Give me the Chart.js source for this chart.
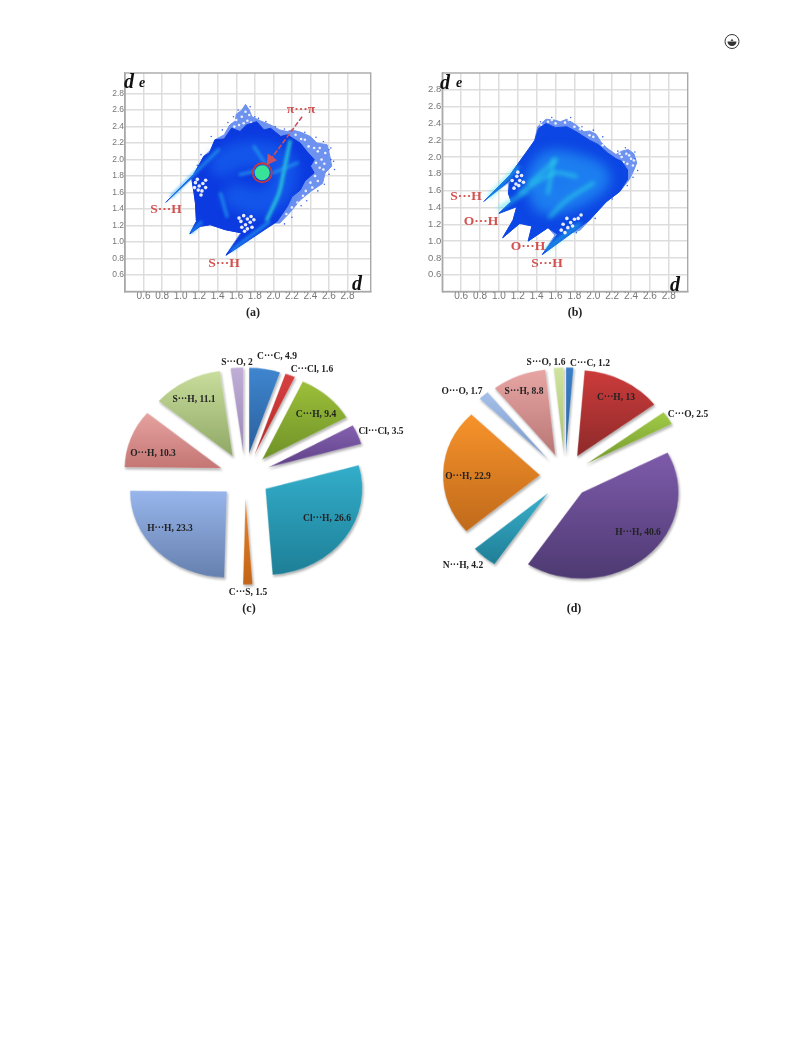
<!DOCTYPE html>
<html>
<head>
<meta charset="utf-8">
<title>Fingerprint plots and contact pies</title>
<script src="https://cdn.jsdelivr.net/npm/chart.js@4"></script>
<style>
  body { margin: 0; background: #fff; }
  #page { position: relative; width: 791px; height: 1056px; overflow: hidden; }
  .box { position: absolute; }
  .fp canvas { filter: blur(0.7px); }
  .pie { transform: scaleY(0.89); }
  .pie canvas { filter: drop-shadow(1px 2px 1px rgba(0,0,0,.3)) blur(0.4px); }
  .txt { position: absolute; transform: translate(-50%, -50%); white-space: nowrap; font-family: "Liberation Serif", serif; font-weight: bold; }
  .slice { font-size: 9.5px; color: #222; filter: blur(0.3px); }
  .mark { font-size: 13.5px; color: #d4504f; filter: blur(0.4px); }
  .cap { font-size: 12px; color: #222; filter: blur(0.3px); }
  .ax { font-style: italic; color: #111; filter: blur(0.4px); }
</style>
</head>
<body>
<div id="page">
  <div class="box fp" style="left:100px;top:60px"><canvas id="fpA" width="285" height="250"></canvas></div>
  <div class="box fp" style="left:420px;top:60px"><canvas id="fpB" width="285" height="250"></canvas></div>
  <div class="box pie" style="left:115px;top:346px"><canvas id="pieC" width="260" height="260"></canvas></div>
  <div class="box pie" style="left:435px;top:346px"><canvas id="pieD" width="260" height="260"></canvas></div>
  <svg class="box" style="left:722px;top:32px" width="20" height="20">
    <circle cx="10" cy="9.5" r="7" fill="none" stroke="#333" stroke-width="1"/>
    <path d="M5.5 9.5 H14.5 A4.5 4.5 0 0 1 5.5 9.5 Z" fill="#333"/>
    <path d="M8.5 9 L10 6.5 L11.5 9 Z" fill="#555"/>
  </svg>
</div>
<script>
// tick values shared by both fingerprint plots
const tickValues = [0.6, 0.8, 1.0, 1.2, 1.4, 1.6, 1.8, 2.0, 2.2, 2.4, 2.6, 2.8];

// plot (a), [di, de]
const aSparse = [[.84,1.48],[1.14,1.82],[1.22,1.97],[1.25,2.04],[1.33,2.12],[1.37,2.24],[1.47,2.3],[1.53,2.42],[1.59,2.47],[1.6,2.55],[1.66,2.6],[1.70,2.67],[1.74,2.6],[1.77,2.52],[1.86,2.47],[1.97,2.42],[2.07,2.36],[2.15,2.34],[2.20,2.36],[2.3,2.33],[2.40,2.28],[2.47,2.2],[2.58,2.18],[2.61,2.04],[2.63,1.92],[2.56,1.84],[2.53,1.71],[2.41,1.62],[2.29,1.51],[2.18,1.36],[2.07,1.23],[1.96,1.23],[1.86,1.15],[1.73,1.09],[1.64,1.10],[1.49,.84],[1.66,1.11],[1.48,1.15],[1.32,1.21],[1.21,1.19],[1.10,1.10],[1.17,1.25],[1.16,1.47],[1.14,1.63],[1.12,1.77]];
const aDense = [[.84,1.48],[1.14,1.82],[1.25,2.04],[1.31,2.08],[1.37,2.24],[1.47,2.25],[1.55,2.38],[1.64,2.34],[1.71,2.42],[1.82,2.46],[1.9,2.36],[1.97,2.38],[2.08,2.28],[2.15,2.30],[2.22,2.25],[2.29,2.20],[2.36,2.1],[2.44,2.00],[2.4,1.92],[2.44,1.84],[2.34,1.74],[2.29,1.63],[2.2,1.55],[2.15,1.43],[2.04,1.25],[1.49,.84],[1.66,1.11],[1.48,1.15],[1.32,1.21],[1.21,1.19],[1.10,1.10],[1.17,1.25],[1.16,1.47],[1.14,1.63],[1.12,1.77]];
const aGlow = [[1.45,1.95],[1.62,2.05],[1.95,2.05],[2.12,1.92],[2.05,1.6],[1.85,1.48],[1.6,1.55]];
const aStreaks = [
  [[.9,1.55],[1.14,1.82],[1.41,2.12]],
  [[1.64,1.82],[1.89,1.88]],
  [[1.79,2.16],[1.93,1.92]],
  [[2.18,2.22],[2.11,1.84],[2.06,1.59],[1.93,1.27]],
  [[2.26,1.96],[2.00,1.84]],
  [[1.43,1.59],[1.50,1.31]],
  [[1.55,.9],[1.95,1.24]],
  [[1.12,1.12],[1.22,1.24]]
];
const aHoles = [[1.16,1.72],[1.2,1.68],[1.24,1.71],[1.19,1.63],[1.23,1.62],[1.27,1.66],[1.22,1.57],[1.27,1.75],[1.15,1.66],[1.18,1.76],
  [1.68,1.32],[1.72,1.28],[1.76,1.31],[1.65,1.25],[1.7,1.21],[1.75,1.24],[1.79,1.27],[1.72,1.16],[1.66,1.18],[1.77,1.18],[1.63,1.29],[1.69,1.13],
  [1.6,2.48],[1.66,2.52],[1.7,2.58],[1.63,2.42],[1.72,2.47],[1.68,2.44],[1.76,2.45],[1.58,2.4],[1.74,2.54],
  [2.48,2.1],[2.52,2.0],[2.5,1.9],[2.45,1.8],[2.55,1.95],[2.4,1.72],[2.35,1.62],[2.3,2.25],[2.38,2.16],[2.44,2.14],[2.5,2.14],[2.56,2.08],[2.46,1.96],[2.54,1.88],[2.42,1.66],[2.32,1.56],[2.26,1.48],[2.24,2.3],[2.34,2.24],[2.2,1.42],[2.14,1.34],[2.48,1.74]];
const aStray = [[2.6,2.12],[2.62,2.0],[2.6,1.82],[2.55,1.7],[2.48,1.62],[2.36,1.5],[2.3,1.44],[2.2,1.3],[2.12,1.22],[1.75,2.64],[1.8,2.52],[1.84,2.5],[1.92,2.46],[2.02,2.4],[2.12,2.37],[2.34,2.33],[2.46,2.27],[2.54,2.22],[2.62,2.14],[2.65,1.98],[2.66,1.88],[1.51,2.45],[1.45,2.36],[1.57,2.52],[1.62,2.6],[1.33,2.28],[1.22,2.06],[1.18,1.93],[1.64,1.06],[1.72,1.05],[1.8,1.09],[1.92,1.17]];
const aSpot = [[1.88,1.84]];
const aArrow = [[2.31,2.52],[1.97,2.0]];

// plot (b)
const bSparse = [[.84,1.47],[1.12,1.79],[1.26,2.01],[1.33,2.1],[1.38,2.2],[1.41,2.36],[1.5,2.45],[1.59,2.44],[1.65,2.42],[1.72,2.45],[1.82,2.38],[1.9,2.3],[1.96,2.31],[2.03,2.27],[2.08,2.18],[2.14,2.11],[2.24,2.03],[2.3,2.07],[2.37,2.09],[2.43,2.04],[2.46,1.93],[2.42,1.82],[2.38,1.73],[2.28,1.59],[2.14,1.47],[2.05,1.37],[1.96,1.25],[1.86,1.13],[1.72,1.08],[1.6,1.08],[1.46,.84],[1.6,1.06],[1.52,1.16],[1.31,1.0],[1.35,1.18],[1.22,1.21],[1.04,1.04],[1.15,1.25],[1.19,1.41],[1.0,1.33],[1.13,1.47],[1.1,1.57],[1.1,1.69]];
const bDense = [[.84,1.47],[1.12,1.79],[1.26,2.01],[1.38,2.2],[1.42,2.34],[1.5,2.4],[1.6,2.35],[1.72,2.36],[1.82,2.3],[1.96,2.2],[2.05,2.15],[2.15,2.05],[2.24,1.98],[2.3,1.95],[2.36,1.85],[2.36,1.73],[2.28,1.59],[2.14,1.47],[1.96,1.25],[1.46,.84],[1.62,1.08],[1.52,1.16],[1.31,1.0],[1.35,1.18],[1.22,1.21],[1.04,1.04],[1.15,1.25],[1.19,1.41],[1.0,1.33],[1.13,1.47],[1.1,1.57],[1.12,1.72]];
const bGlow = [[1.42,1.68],[1.55,1.9],[1.85,1.85],[2.02,1.75],[1.85,1.6],[1.62,1.5],[1.5,1.5]];
const bStreaks = [
  [[1.58,1.97],[1.52,1.57]],
  [[1.22,1.57],[1.58,1.81],[1.82,1.77]],
  [[1.54,1.29],[1.72,1.49],[2.0,1.69]],
  [[1.33,1.69],[1.61,1.97]],
  [[1.01,1.39],[1.29,1.59]],
  [[.9,1.53],[1.2,1.88]],
  [[1.5,.9],[1.85,1.2]]
];
const bHoles = [[1.14,1.72],[1.18,1.68],[1.22,1.72],[1.16,1.63],[1.21,1.66],[1.19,1.77],[1.24,1.78],[1.26,1.7],[1.2,1.82],
  [1.72,1.27],[1.76,1.22],[1.8,1.26],[1.68,1.2],[1.73,1.16],[1.78,1.18],[1.84,1.27],[1.66,1.13],[1.7,1.1],[1.87,1.31],
  [2.3,2.0],[2.35,2.04],[2.4,1.98],[2.36,1.92],[2.42,1.9],[2.32,1.94],[2.38,2.02],[2.28,2.04],[2.43,1.96],
  [1.52,2.42],[1.6,2.4],[1.7,2.41],[1.8,2.36],[1.96,2.26],[1.45,2.38],[1.56,2.44],[1.74,2.44],[1.86,2.33],[2.0,2.24],[2.1,2.14],
  [1.32,1.16],[1.25,1.19],[1.2,1.3],[1.22,1.25],[1.38,1.22]];
const bStray = [[2.44,1.98],[2.47,1.84],[2.42,1.76],[2.36,1.66],[1.44,2.42],[1.56,2.47],[1.76,2.47],[1.88,2.36],[2.0,2.32],[2.1,2.24],[2.44,2.06],[2.34,2.11],[2.26,2.07],[2.2,1.5],[1.7,1.05],[1.82,1.1],[2.02,1.27]];

// pie (c)
const pieCLabels = ["C···C", "C···Cl", "C···H", "Cl···Cl", "Cl···H", "C···S", "H···H", "O···H", "S···H", "S···O"];
const pieCValues = [4.9, 1.6, 9.4, 3.5, 26.6, 1.5, 23.3, 10.3, 11.1, 2];
const pieCColors = [["#3f86d0","#2a5f9c"],["#d94040","#b02a2a"],["#9cbf3a","#6f9228"],["#8561b0","#5e4187"],["#33aecb","#1e7f97"],["#e8842a","#c26418"],["#98b6ec","#6680ae"],["#e6a3a0","#c47674"],["#c9dd9c","#8fa866"],["#c0aed8","#9a87b5"]];

// pie (d)
const pieDLabels = ["C···C", "C···H", "C···O", "H···H", "N···H", "O···H", "O···O", "S···H", "S···O"];
const pieDValues = [1.2, 13, 2.5, 40.6, 4.2, 22.9, 1.7, 8.8, 1.6];
const pieDColors = [["#3a80c8","#2a64a0"],["#cc3b3b","#8e2a2a"],["#a2cc48","#74982c"],["#7e5bab","#4e3a72"],["#3ab0cc","#1f7e96"],["#f7932b","#c06a1b"],["#a4c0ea","#7a98c8"],["#e8a5a4","#b87775"],["#d0e4a0","#a8c070"]];

// where the text goes on the page
const pieCTextPos = [[277,356],[312,369],[316,414],[381,431],[327,518],[248,592],[170,528],[153,453],[194,399],[237,362]];
const pieDTextPos = [[590,363],[616,397],[688,414],[638,532],[463,565],[468,476],[462,391],[524,391],[546,362]];
const markTexts = [
  ["π···π",301,109],["S···H",166,209],["S···H",224,263],
  ["S···H",466,196],["O···H",481,221],["O···H",528,246],["S···H",547,263]
];
const captions = [["(a)",253,312],["(b)",575,312],["(c)",249,608],["(d)",574,608]];

const toPts = arr => arr.map(p => ({ x: p[0], y: p[1] }));

function polygon(pts, color) {
  return { data: toPts(pts), showLine: true, fill: 'shape', backgroundColor: color, borderColor: color, borderWidth: 1, pointRadius: 0 };
}
function dots(pts, color, r) {
  return { data: toPts(pts), showLine: false, backgroundColor: color, borderWidth: 0, pointRadius: r };
}
function streak(pts, color, w, soft) {
  return { data: toPts(pts), showLine: true, fill: false, borderColor: color, borderWidth: w, pointRadius: 0, tension: 0.3, borderCapStyle: 'round', soft: soft };
}

// streaks are density ridges, so they get drawn out of focus
const softLines = {
  id: 'softLines',
  beforeDatasetDraw(chart, args) {
    const soft = chart.data.datasets[args.index].soft;
    chart.ctx.save();
    if (soft) chart.ctx.filter = `blur(${soft}px)`;
  },
  afterDatasetDraw(chart) {
    chart.ctx.restore();
  }
};

function fingerprint(id, datasets, xMin, xMax, yMin, yMax, padLeft, padRight, ySize) {
  return new Chart(document.getElementById(id), {
    type: 'scatter',
    data: { datasets: datasets },
    options: {
      responsive: false,
      animation: false,
      layout: { padding: { left: 0, right: padRight, top: 13, bottom: 0 } },
      plugins: { legend: { display: false }, tooltip: { enabled: false } },
      scales: {
        x: {
          type: 'linear', min: xMin, max: xMax,
          afterBuildTicks: s => { s.ticks = tickValues.map(v => ({ value: v })); },
          afterFit: s => { s.height = 18.5; },
          grid: { color: '#dddddd', lineWidth: 1.5, drawTicks: false },
          border: { color: '#a8a8a8', width: 1.4 },
          ticks: { autoSkip: false, maxRotation: 0, padding: -1, color: '#777', font: { family: 'Liberation Sans', size: 10 }, callback: v => v.toFixed(1) }
        },
        y: {
          type: 'linear', min: yMin, max: yMax,
          afterBuildTicks: s => { s.ticks = tickValues.map(v => ({ value: v })); },
          afterFit: s => { s.width = padLeft; },
          grid: { color: '#dddddd', lineWidth: 1.5, drawTicks: false },
          border: { color: '#a8a8a8', width: 1.4 },
          ticks: { autoSkip: false, padding: 1, color: '#777', font: { family: 'Liberation Sans', size: ySize }, callback: v => v.toFixed(1) }
        }
      }
    },
    plugins: [softLines, {
      // right and top edge of the frame
      id: 'frame',
      beforeDatasetsDraw(chart) {
        const { ctx, chartArea: a } = chart;
        ctx.save();
        ctx.strokeStyle = '#a8a8a8';
        ctx.lineWidth = 1.4;
        ctx.strokeRect(a.left, a.top, a.width, a.height);
        ctx.restore();
      }
    }]
  });
}

const aSets = [
  polygon(aSparse, '#6e92f0'),
  dots(aHoles, 'rgba(255,255,255,.85)', 1.3),
  dots(aStray, '#3b66e8', 0.8),
  polygon(aDense, '#0b3ae0'),
  streak(aGlow, 'rgba(25,110,242,.55)', 26, 6)
];
aStreaks.forEach((s, i) => aSets.push(streak(s, i === 3 ? 'rgba(45,225,215,.8)' : 'rgba(40,165,240,.7)', i === 3 ? 3.5 : 3, 1.8)));
aSets.push(dots(aHoles.slice(0, 22), 'rgba(255,255,255,.9)', 1.8));
aSets.push(dots(aSpot, '#38e296', 7.5));
aSets.push({ data: toPts(aSpot), showLine: false, pointRadius: 9.5, backgroundColor: 'rgba(0,0,0,0)', borderColor: '#c4383f', pointBorderWidth: 1.8, borderWidth: 1.8 });
aSets.push({ data: toPts(aArrow), showLine: true, fill: false, borderColor: '#cc5060', borderWidth: 1.6, borderDash: [5, 2], pointRadius: [0, 5], pointStyle: 'triangle', pointRotation: 215, backgroundColor: '#cc5060', pointBackgroundColor: '#cc5060' });

const bSets = [
  polygon(bSparse, '#6e92f0'),
  dots(bHoles, 'rgba(255,255,255,.85)', 1.3),
  dots(bStray, '#3b66e8', 0.8),
  polygon(bDense, '#0c46e4'),
  streak(bGlow, 'rgba(35,150,245,.7)', 30, 6)
];
bStreaks.forEach(s => bSets.push(streak(s, 'rgba(45,220,230,.65)', 3.5, 2)));
bSets.push(dots(bHoles.slice(0, 19), 'rgba(255,255,255,.9)', 1.8));

// Chart.js paints the first dataset last, so flip to keep them in paint order
fingerprint('fpA', aSets.reverse(), 0.4, 3.05, 0.4, 3.05, 25, 14.3, 8.5);
fingerprint('fpB', bSets.reverse(), 0.4, 3.0, 0.4, 3.0, 22.3, 17.3, 9.5);

// every slice sits this far out from the pie centre
const explode = 25;
// the arc's own offset option also resizes thin slices, so move the arcs directly
// and shade each one light to dark over its own height
function explodeArcs(colors) {
  return {
    id: 'explodeArcs',
    afterDatasetsUpdate(chart) {
      chart.getDatasetMeta(0).data.forEach((arc, i) => {
        const mid = (arc.startAngle + arc.endAngle) / 2;
        arc.x += Math.cos(mid) * explode;
        arc.y += Math.sin(mid) * explode;
        const ys = [arc.y];
        for (let k = 0; k <= 8; k++) {
          const a = arc.startAngle + (arc.endAngle - arc.startAngle) * k / 8;
          ys.push(arc.y + Math.sin(a) * arc.outerRadius);
        }
        const g = chart.ctx.createLinearGradient(0, Math.min(...ys), 0, Math.max(...ys));
        g.addColorStop(0, colors[i][0]);
        g.addColorStop(1, colors[i][1]);
        arc.options = Object.assign({}, arc.options, { backgroundColor: g });
      });
    }
  };
}

function pie(id, values, colors) {
  return new Chart(document.getElementById(id), {
    type: 'pie',
    data: {
      labels: id === 'pieC' ? pieCLabels : pieDLabels,
      datasets: [{
        data: values,
        borderWidth: 0.6,
        borderColor: 'rgba(255,255,255,.45)'
      }]
    },
    options: {
      responsive: false,
      animation: false,
      radius: 97,
      plugins: { legend: { display: false }, tooltip: { enabled: false } }
    },
    plugins: [explodeArcs(colors)]
  });
}
pie('pieC', pieCValues, pieCColors);
pie('pieD', pieDValues, pieDColors);

const page = document.getElementById('page');
function addText(cls, text, x, y, size) {
  const el = document.createElement('div');
  el.className = 'txt ' + cls;
  el.textContent = text;
  el.style.left = x + 'px';
  el.style.top = y + 'px';
  if (size) el.style.fontSize = size + 'px';
  page.appendChild(el);
}
pieCLabels.forEach((l, i) => addText('slice', `${l}, ${pieCValues[i]}`, pieCTextPos[i][0], pieCTextPos[i][1]));
pieDLabels.forEach((l, i) => addText('slice', `${l}, ${pieDValues[i]}`, pieDTextPos[i][0], pieDTextPos[i][1]));
markTexts.forEach(m => addText('mark', m[0], m[1], m[2]));
captions.forEach(c => addText('cap', c[0], c[1], c[2]));
// axis letters of the two plots
[["d",129,81,20],["e",142,83,14],["d",357,283,20],["d",445,82,20],["e",459,83,14],["d",675,284,20]].forEach(a => addText('ax', a[0], a[1], a[2], a[3]));
</script>
</body>
</html>
